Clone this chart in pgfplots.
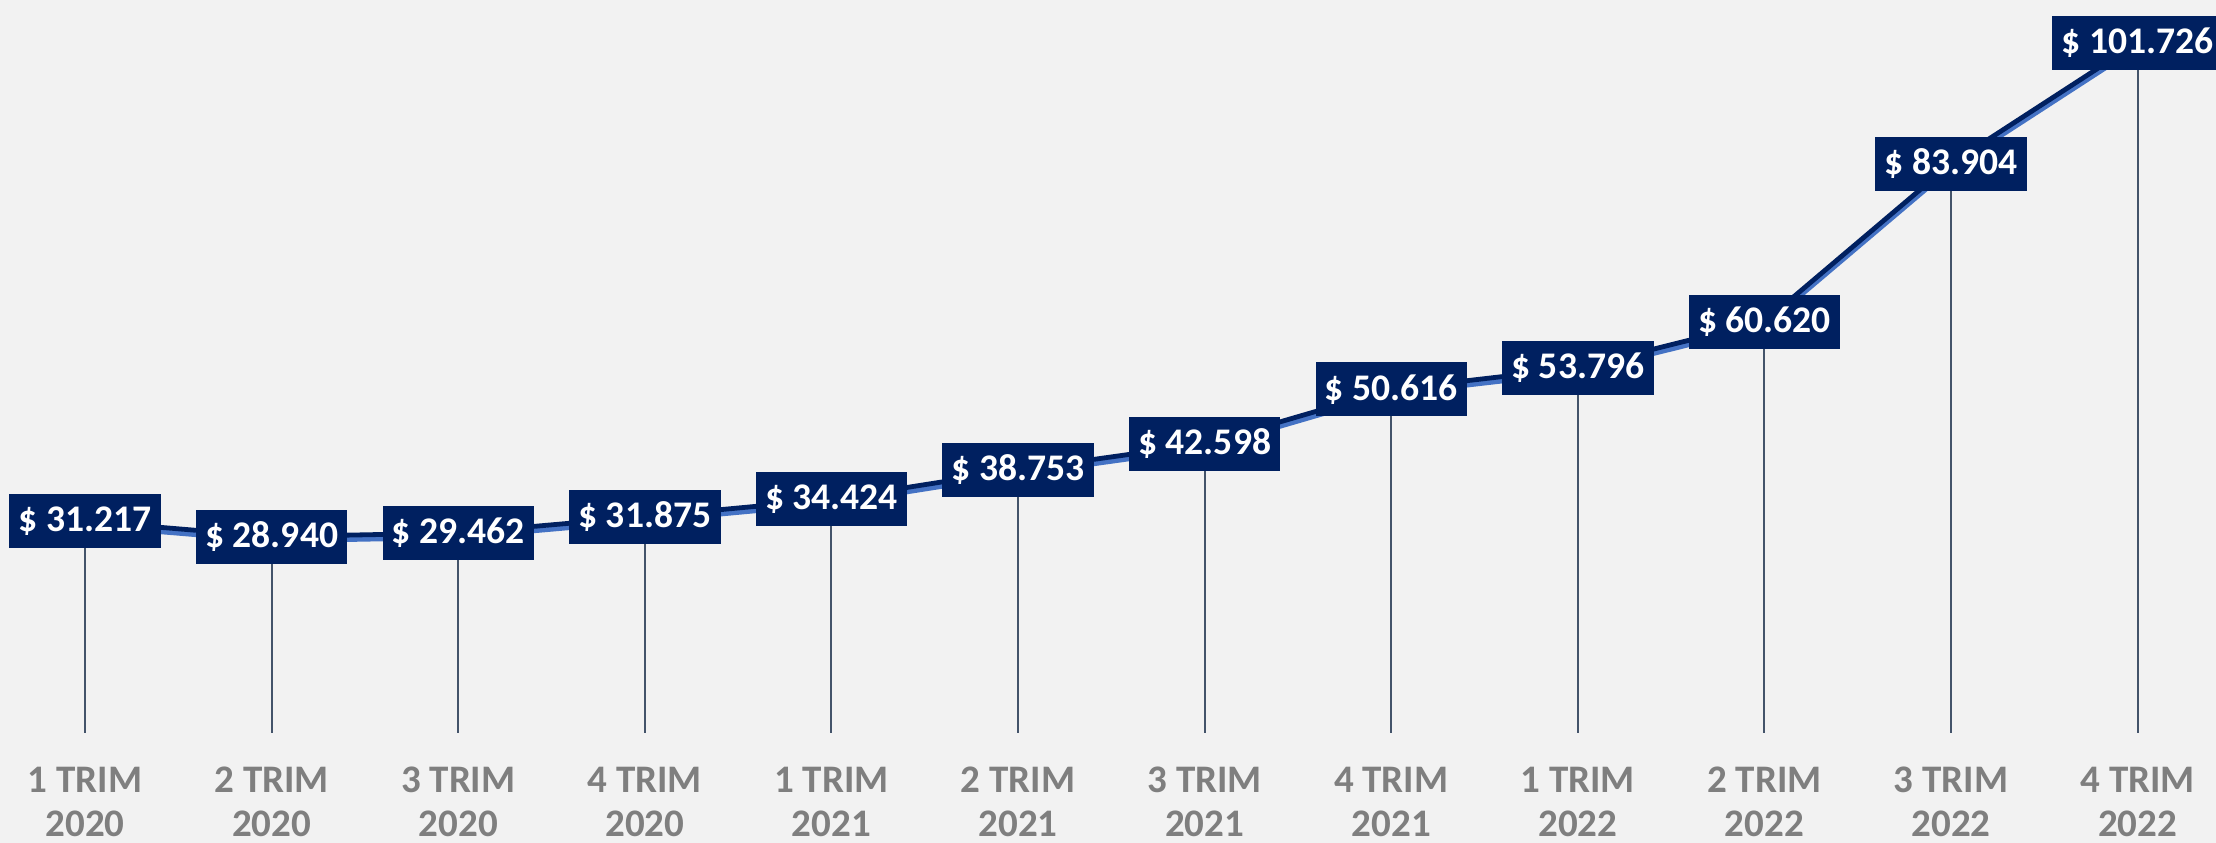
\documentclass[border=0pt]{standalone}
\usepackage{pgfplots}
\pgfplotsset{compat=1.18}
\usepackage{fontspec}
\setmainfont{Carlito}
\usetikzlibrary{backgrounds}
\definecolor{navy}{HTML}{002060}
\definecolor{lblue}{HTML}{4472C4}
\definecolor{dropc}{HTML}{44546A}
\definecolor{axgray}{HTML}{7F7F7F}
\definecolor{bg}{HTML}{F2F2F2}
\pgfplotstableread{
x y
0 31.217
1 28.940
2 29.462
3 31.875
4 34.424
5 38.753
6 42.598
7 50.616
8 53.796
9 60.620
10 83.904
11 101.726
}\datatable
\begin{document}
\begin{tikzpicture}
\begin{axis}[
  scale only axis,
  width=554pt, height=183.25pt,
  at={(0,0)}, anchor=south west,
  xmin=-0.456, xmax=11.42,
  ymin=0, ymax=108,
  axis line style={draw=none},
  ytick=\empty,
  xtick={0,...,11},
  major tick length=0pt,
  xticklabels={{1 TRIM\\2020},{2 TRIM\\2020},{3 TRIM\\2020},{4 TRIM\\2020},{1 TRIM\\2021},{2 TRIM\\2021},{3 TRIM\\2021},{4 TRIM\\2021},{1 TRIM\\2022},{2 TRIM\\2022},{3 TRIM\\2022},{4 TRIM\\2022}},
  xticklabel style={align=center, font=\fontsize{9.75}{11}\selectfont\bfseries, text=axgray, yshift=-5pt},
  clip=false,
]
\addplot[ycomb, draw=dropc, line width=0.5pt, mark=none] table[x=x,y=y] {\datatable};
\addplot[draw=lblue, line width=1.2pt, mark=none, yshift=-1.1pt] table[x=x,y=y] {\datatable};
\addplot[draw=navy, line width=1.2pt, mark=none,
  nodes near coords={\$ \pgfmathprintnumber[fixed,fixed zerofill,precision=3,assume math mode=true]{\pgfplotspointmeta}},
  every node near coord/.style={anchor=center, fill=navy, text=white, font=\fontsize{9.4}{11}\selectfont\bfseries, inner xsep=2.3pt, inner ysep=0pt, minimum height=13.5pt},
] table[x=x,y=y] {\datatable};
\end{axis}
\begin{scope}[on background layer]
\fill[bg] (0,-27.5pt) rectangle (554pt,183.25pt);
\end{scope}
\pgfresetboundingbox
\useasboundingbox (0,-27.5pt) rectangle (554pt,183.25pt);
\end{tikzpicture}
\end{document}
